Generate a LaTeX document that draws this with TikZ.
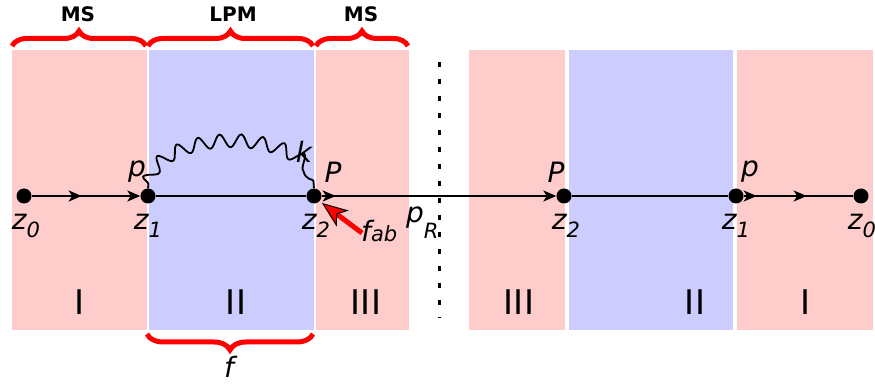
\documentclass[tikz,border=0pt]{standalone}
\usepackage{fontspec}
\setmainfont{DejaVu Sans}
\usetikzlibrary{arrows.meta,decorations.pathreplacing,decorations.pathmorphing,decorations.markings,calc}
\definecolor{pinkreg}{HTML}{FFCCCC}
\definecolor{bluereg}{HTML}{CCCCFF}
\newcommand\lbsub[3]{#1\raisebox{-#3}{\fontsize{21}{21}\selectfont #2}}
\begin{document}
\begin{tikzpicture}[x=1pt,y=1pt,
  pinkbox/.style={fill=pinkreg,draw=none},
  bluebox/.style={fill=bluereg,draw=none},
  dot/.style={circle,fill=black,inner sep=0pt,minimum size=15pt},
  lbl/.style={font=\fontsize{28}{30}\selectfont\itshape,inner sep=0pt,anchor=base},
  roman/.style={font=\fontsize{34}{36}\selectfont,inner sep=0pt,anchor=base},
  toplbl/.style={font=\fontsize{20}{22}\selectfont\bfseries,inner sep=0pt,anchor=base},
  rbrace/.style={draw=red,line width=5pt,decorate,decoration={brace,amplitude=15pt}},
  fline/.style={line width=2.2pt},
  tip/.style={-{Stealth[length=13pt,width=11pt,inset=3.5pt]}},
  photon/.style={line width=1.8pt,decorate,decoration={snake,amplitude=6.5pt,segment length=21pt,pre length=4pt,post length=4pt}}
]
\useasboundingbox (0,0) rectangle (875,388);
% regions
\fill[pinkbox] (12,58) rectangle (147,338);
\fill[bluebox] (149,58) rectangle (314,338);
\fill[pinkbox] (316,58) rectangle (409,338);
\fill[pinkbox] (469,58) rectangle (565,338);
\fill[bluebox] (569,58) rectangle (733,338);
\fill[pinkbox] (737,58) rectangle (873,338);
% divider
\coordinate (dtop) at (439,326);
\coordinate (dbot) at (439,70);
\draw[line width=3pt,dash pattern=on 5pt off 12pt] (dtop) -- (dbot);
% roman numerals
\node[roman] (r1) at (80,73) {I};
\node[roman] (r2) at (236,73) {II};
\node[roman] (r3) at (366,73) {III};
\node[roman] (r3b) at (519,73) {III};
\node[roman] (r2b) at (695,73) {II};
\node[roman] (r1b) at (806,73) {I};
% braces
\coordinate (b1a) at (12,342); \coordinate (b1b) at (146,342);
\coordinate (b2a) at (148,342); \coordinate (b2b) at (313,342);
\coordinate (b3a) at (316,342); \coordinate (b3b) at (408,342);
\draw[rbrace] (b1a) -- (b1b);
\draw[rbrace] (b2a) -- (b2b);
\draw[rbrace] (b3a) -- (b3b);
\node[toplbl] (ms1) at (78,366) {MS};
\node[toplbl] (lpm) at (233,366) {LPM};
\node[toplbl] (ms2) at (361,366) {MS};
\coordinate (bfa) at (313,54); \coordinate (bfb) at (147,54);
\draw[rbrace,decoration={brace,amplitude=16pt}] (bfa) -- (bfb);
\node[lbl] (f) at (229,10) {f};
% vertices
\node[dot] (z0) at (24,192) {};
\node[dot] (z1) at (148,192) {};
\node[dot] (z2) at (314,192) {};
\node[dot] (z2r) at (564,192) {};
\node[dot] (z1r) at (736,192) {};
\node[dot] (z0r) at (861,192) {};
% fermion line
\draw[fline,tip,postaction={decorate},decoration={markings,mark=at position 50pt with {\arrow{Stealth[length=13pt,width=11pt,inset=3.5pt]}}}] (z0) -- (z1);
\draw[fline] (z1) -- (z2);
\draw[fline,tip,postaction={decorate},decoration={markings,mark=at position 14pt with {\arrow{Stealth[length=13pt,width=11pt,inset=3.5pt]}}}] (z2) -- (z2r);
\draw[fline] (z2r) -- (z1r);
\draw[fline,postaction={decorate},decoration={markings,mark=at position 13pt with {\arrow{Stealth[length=13pt,width=11pt,inset=3.5pt]}},mark=at position 63pt with {\arrow{Stealth[length=13pt,width=11pt,inset=3.5pt]}}}] (z1r) -- (z0r);
% photon
\draw[photon] (z1.north) arc[start angle=180,end angle=0,x radius=83,y radius=43];
% labels
\node[lbl] (lz0) at ([yshift=-34pt,xshift=2pt]z0.center) {\lbsub{z}{0}{8pt}};
\node[lbl] (lz1) at ([yshift=-34pt]z1.center) {\lbsub{z}{1}{8pt}};
\node[lbl] (lz2) at ([yshift=-34pt,xshift=2pt]z2.center) {\lbsub{z}{2}{8pt}};
\node[lbl] (lz2r) at ([yshift=-34pt,xshift=2pt]z2r.center) {\lbsub{z}{2}{8pt}};
\node[lbl] (lz1r) at ([yshift=-34pt]z1r.center) {\lbsub{z}{1}{8pt}};
\node[lbl] (lz0r) at ([yshift=-34pt,xshift=1pt]z0r.center) {\lbsub{z}{0}{8pt}};
\node[lbl] (lp) at ([xshift=-11pt,yshift=19pt]z1.center) {p};
\node[lbl] (lk) at ([xshift=-10pt,yshift=33pt]z2.center) {k};
\node[lbl] (lP) at ([xshift=19pt,yshift=13pt]z2.center) {P};
\node[lbl] (lPr) at ([xshift=-8pt,yshift=13pt]z2r.center) {P};
\node[lbl] (lpr) at ([xshift=14pt,yshift=19pt]z1r.center) {p};
\node[lbl,anchor=base west] (lpR) at (406,165) {\lbsub{p}{R}{16pt}};
\node[lbl,anchor=base west] (lfab) at (361,146) {\lbsub{f}{ab}{0pt}};
% f_ab arrow
\coordinate (fabtail) at (362,155);
\draw[red,line width=5pt,-{Stealth[length=26pt,width=20pt,inset=7pt,line width=1pt,color=black,fill=red]}] (fabtail) -- ([xshift=2pt,yshift=-2pt]z2.-40);
\end{tikzpicture}
\end{document}
